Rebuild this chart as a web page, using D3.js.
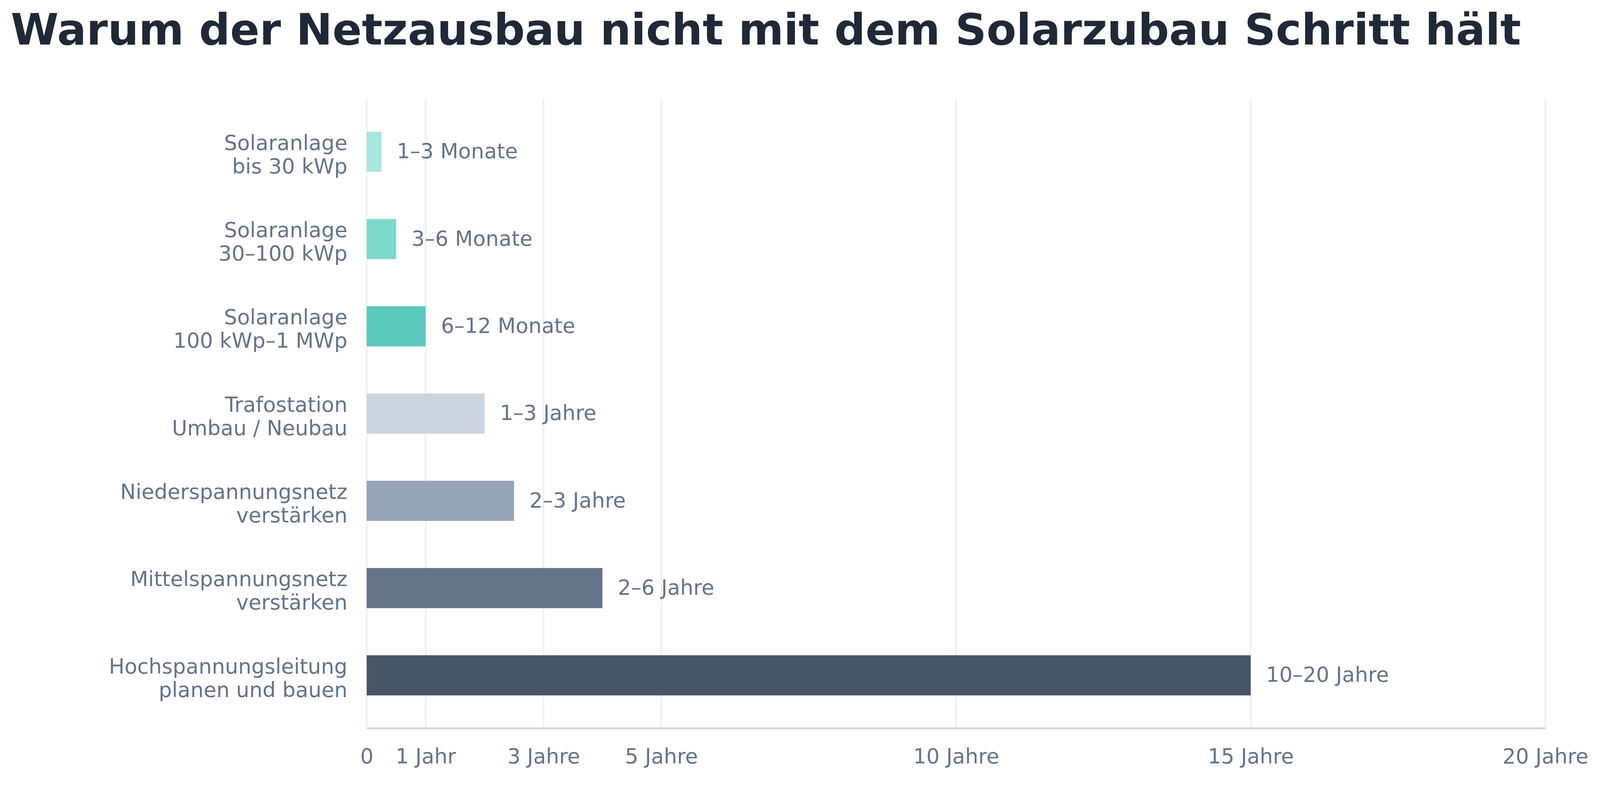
<!DOCTYPE html>
<html>
<head>
<meta charset="utf-8">
<script src="https://cdn.jsdelivr.net/npm/d3@7"></script>
<style>
  html, body { margin: 0; padding: 0; background: #fff; overflow: hidden; width: 100%; height: 100%; }
  svg { display: block; width: 100vw; height: 100vh; font-family: "DejaVu Sans", sans-serif; }
</style>
</head>
<body>
<svg id="svg" viewBox="0 0 4154 2022" preserveAspectRatio="xMinYMin meet"></svg>
<script>
// data
var categories = [
  ["Solaranlage", "bis 30 kWp"],
  ["Solaranlage", "30–100 kWp"],
  ["Solaranlage", "100 kWp–1 MWp"],
  ["Trafostation", "Umbau / Neubau"],
  ["Niederspannungsnetz", "verstärken"],
  ["Mittelspannungsnetz", "verstärken"],
  ["Hochspannungsleitung", "planen und bauen"]
];
var durations = [0.25, 0.5, 1, 2, 2.5, 4, 15];
var durationLabels = ["1–3 Monate", "3–6 Monate", "6–12 Monate", "1–3 Jahre", "2–3 Jahre", "2–6 Jahre", "10–20 Jahre"];
var barColors = ["#a8e6df", "#7dd9cc", "#5bc9be", "#cbd5e1", "#94a3b8", "#64748b", "#475569"];
var tickValues = [0, 1, 3, 5, 10, 15, 20];
var tickLabels = ["0", "1 Jahr", "3 Jahre", "5 Jahre", "10 Jahre", "15 Jahre", "20 Jahre"];

var svg = d3.select("#svg");
var plotLeft = 952, plotRight = 4012, plotTop = 257, plotBottom = 1890;

svg.append("text")
  .attr("x", 28)
  .attr("y", 116)
  .attr("fill", "#1f2937")
  .style("font-size", "112.7px")
  .style("font-weight", "bold")
  .text("Warum der Netzausbau nicht mit dem Solarzubau Schritt hält");

var xScale = d3.scaleLinear().domain([0, 20]).range([plotLeft, plotRight]);
var yScale = d3.scaleBand()
  .domain(d3.range(categories.length))
  .range([plotTop, plotBottom])
  .paddingInner(0.54)
  .paddingOuter(0.375);

// gridlines
svg.append("g")
  .selectAll("line")
  .data(tickValues)
  .enter()
  .append("line")
  .attr("x1", d => xScale(d))
  .attr("x2", d => xScale(d))
  .attr("y1", plotTop)
  .attr("y2", plotBottom)
  .attr("stroke", "#edf1f5")
  .attr("stroke-width", 4.5);

// bars
svg.append("g")
  .selectAll("rect")
  .data(durations)
  .enter()
  .append("rect")
  .attr("x", xScale(0))
  .attr("y", (d, i) => yScale(i))
  .attr("width", d => xScale(d) - xScale(0))
  .attr("height", yScale.bandwidth())
  .attr("fill", (d, i) => barColors[i]);

// value labels
svg.append("g")
  .selectAll("text")
  .data(durations)
  .enter()
  .append("text")
  .attr("x", d => xScale(d) + 40)
  .attr("y", (d, i) => yScale(i) + yScale.bandwidth() / 2 + 17)
  .attr("fill", "#64748b")
  .style("font-size", "54px")
  .text((d, i) => durationLabels[i]);

// category labels
var catText = svg.append("g")
  .selectAll("text")
  .data(categories)
  .enter()
  .append("text")
  .attr("text-anchor", "end")
  .attr("fill", "#64748b")
  .style("font-size", "54px");

catText.each(function(lines, i) {
  var cy = yScale(i) + yScale.bandwidth() / 2;
  d3.select(this)
    .selectAll("tspan")
    .data(lines)
    .enter()
    .append("tspan")
    .attr("x", 902)
    .attr("y", (l, j) => cy - 5 + j * 61)
    .text(l => l);
});

// x axis
var xAxis = svg.append("g")
  .attr("transform", `translate(0, ${plotBottom})`)
  .call(
    d3.axisBottom(xScale)
      .tickValues(tickValues)
      .tickFormat((d, i) => tickLabels[i])
      .tickSize(0)
      .tickSizeOuter(0)
      .tickPadding(53)
  );

xAxis.select(".domain")
  .attr("stroke", "#cbd5e1")
  .attr("stroke-width", 5);

xAxis.selectAll("text")
  .attr("fill", "#64748b")
  .style("font-size", "54px")
  .style("font-family", "'DejaVu Sans', sans-serif");
</script>
</body>
</html>
